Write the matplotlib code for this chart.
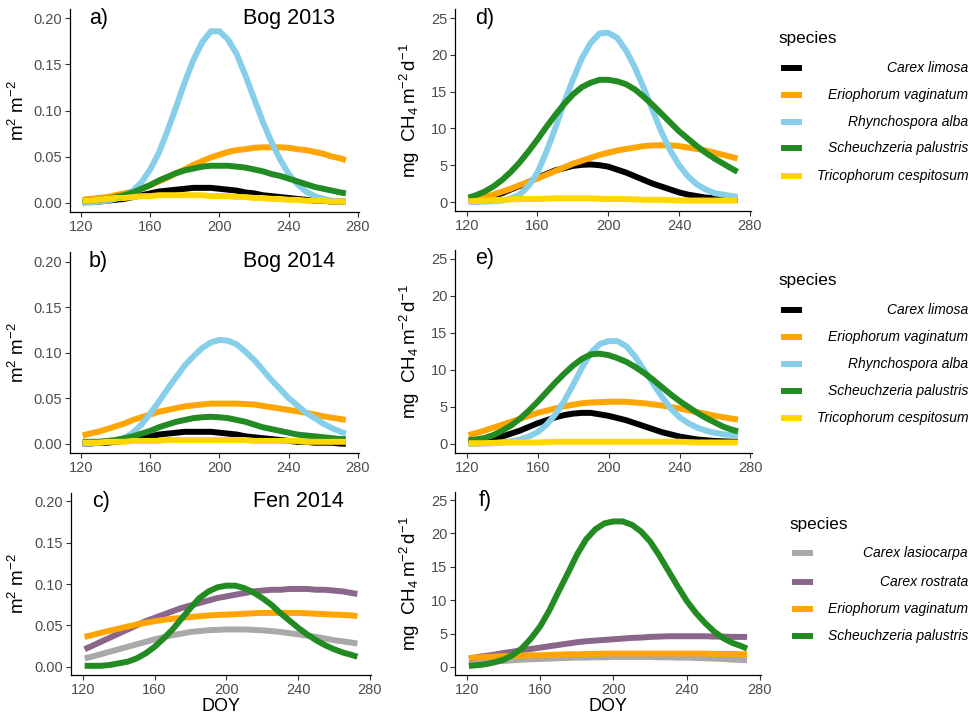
import matplotlib
matplotlib.use("Agg")
import matplotlib.pyplot as plt
from matplotlib.lines import Line2D

plt.rcParams['font.family'] = ['Liberation Sans', 'DejaVu Sans']
plt.rcParams['mathtext.fontset'] = 'custom'
plt.rcParams['mathtext.rm'] = 'Liberation Sans'
plt.rcParams['mathtext.it'] = 'Liberation Sans:italic'

# day of year (common grid for all curves)
doy = [121, 125, 130, 135, 140, 145, 150, 155, 160, 165, 170, 175, 180, 185, 190, 195,
       200, 205, 210, 215, 220, 225, 230, 235, 240, 245, 250, 255, 260, 265, 270, 273]

bog_species = ["Carex limosa", "Eriophorum vaginatum", "Rhynchospora alba",
               "Scheuchzeria palustris", "Tricophorum cespitosum"]
bog_colors = ["#000000", "#FFA500", "#87CEEB", "#228B22", "#FFD700"]
fen_species = ["Carex lasiocarpa", "Carex rostrata", "Eriophorum vaginatum",
               "Scheuchzeria palustris"]
fen_colors = ["#A9A9A9", "#8B668B", "#FFA500", "#228B22"]

# Bog 2013, leaf area (m2 m-2)
lai13_limosa = [0, .001, .001, .002, .003, .004, .006, .008, .010, .012, .013, .014, .015, .016, .016, .016,
                .015, .014, .013, .011, .010, .008, .007, .006, .005, .004, .003, .002, .002, .001, .001, .001]
lai13_vaginatum = [.003, .004, .005, .006, .008, .010, .012, .015, .019, .023, .027, .032, .036, .041, .045, .049,
                   .052, .055, .057, .058, .0595, .060, .060, .060, .0595, .058, .057, .055, .053, .050, .048, .046]
lai13_alba = [0, 0, .001, .002, .004, .007, .013, .022, .036, .054, .078, .104, .131, .155, .174, .186,
              .186, .177, .161, .138, .113, .088, .066, .047, .031, .020, .012, .007, .004, .002, .001, .001]
lai13_palustris = [.002, .002, .003, .004, .006, .008, .011, .015, .019, .024, .028, .032, .035, .037, .039, .040,
                   .040, .040, .039, .038, .036, .034, .031, .029, .026, .023, .020, .017, .015, .013, .011, .010]
lai13_cespitosum = [.002, .002, .003, .004, .005, .005, .006, .007, .007, .008, .008, .008, .008, .008, .008, .007,
                    .007, .007, .006, .006, .005, .005, .004, .004, .003, .003, .002, .002, .002, .001, .001, .001]

# Bog 2013, CH4 flux (mg CH4 m-2 d-1)
ch13_limosa = [.2, .3, .5, .8, 1.2, 1.7, 2.2, 2.7, 3.3, 3.8, 4.3, 4.6, 4.9, 5.05, 5.1, 5.0,
               4.8, 4.4, 4.0, 3.5, 3.0, 2.5, 2.1, 1.7, 1.3, 1.0, .8, .6, .5, .4, .3, .3]
ch13_vaginatum = [.3, .5, .7, 1.0, 1.4, 1.8, 2.3, 2.7, 3.2, 3.7, 4.2, 4.7, 5.2, 5.6, 6.0, 6.4,
                  6.7, 7.0, 7.2, 7.4, 7.6, 7.7, 7.7, 7.7, 7.6, 7.4, 7.2, 7.0, 6.7, 6.4, 6.1, 5.9]
ch13_alba = [0, 0, .05, .1, .2, .5, 1.0, 2.2, 4.0, 6.8, 10.0, 13.5, 16.6, 19.5, 21.6, 22.9,
             23.0, 22.3, 20.6, 18.3, 15.5, 12.5, 9.5, 7.0, 5.0, 3.5, 2.4, 1.7, 1.2, 1.0, .8, .7]
ch13_palustris = [.6, .9, 1.4, 2.1, 3.0, 4.1, 5.4, 6.9, 8.5, 10.2, 11.8, 13.3, 14.6, 15.6, 16.2, 16.6,
                  16.6, 16.4, 16.0, 15.3, 14.3, 13.2, 12.0, 10.8, 9.6, 8.6, 7.6, 6.7, 5.9, 5.2, 4.5, 4.1]
ch13_cespitosum = [.1, .15, .2, .25, .3, .35, .4, .4, .4, .45, .5, .5, .5, .5, .5, .45,
                   .4, .4, .4, .35, .3, .3, .3, .25, .2, .2, .2, .2, .2, .2, .2, .2]

# Bog 2014, leaf area
lai14_limosa = [0, 0, .001, .001, .002, .003, .005, .006, .008, .010, .011, .012, .013, .013, .013, .013,
                .012, .011, .010, .008, .007, .006, .005, .004, .003, .002, .002, .001, .001, .001, 0, 0]
lai14_vaginatum = [.009, .011, .013, .016, .019, .022, .026, .029, .032, .035, .037, .039, .041, .042, .043, .044,
                   .044, .044, .044, .0435, .043, .0415, .040, .0385, .037, .0355, .034, .032, .030, .0285, .027, .026]
lai14_alba = [0, 0, .001, .002, .003, .006, .012, .021, .033, .046, .060, .073, .086, .096, .105, .111,
              .114, .113, .109, .101, .092, .081, .070, .060, .050, .042, .034, .028, .022, .017, .013, .011]
lai14_palustris = [.002, .002, .002, .003, .004, .006, .008, .011, .014, .018, .021, .024, .026, .028, .029, .0295,
                   .029, .028, .026, .024, .021, .018, .016, .014, .012, .010, .009, .008, .007, .006, .005, .005]
lai14_cespitosum = [.001, .001, .001, .002, .002, .002, .003, .003, .003, .003, .004, .004, .004, .004, .004, .004,
                    .004, .004, .004, .004, .003, .003, .003, .003, .003, .003, .002, .002, .002, .002, .002, .002]

# Bog 2014, CH4 flux
ch14_limosa = [.2, .3, .4, .6, 1.0, 1.4, 1.8, 2.3, 2.8, 3.2, 3.6, 3.9, 4.1, 4.2, 4.2, 4.0,
               3.8, 3.5, 3.2, 2.8, 2.4, 2.0, 1.6, 1.3, 1.0, .8, .6, .5, .4, .35, .3, .3]
ch14_vaginatum = [1.2, 1.45, 1.8, 2.2, 2.6, 3.0, 3.4, 3.8, 4.2, 4.5, 4.8, 5.1, 5.3, 5.5, 5.6, 5.65,
                  5.7, 5.7, 5.7, 5.6, 5.5, 5.35, 5.2, 5.0, 4.8, 4.55, 4.3, 4.05, 3.8, 3.6, 3.4, 3.3]
ch14_alba = [0, 0, .05, .1, .2, .35, .6, 1.0, 1.6, 2.6, 4.0, 5.8, 8.0, 10.3, 12.3, 13.5,
             13.9, 13.9, 13.2, 11.8, 10.0, 8.2, 6.4, 4.8, 3.6, 2.8, 2.2, 1.8, 1.5, 1.3, 1.2, 1.1]
ch14_palustris = [.5, .6, .8, 1.2, 1.8, 2.5, 3.4, 4.5, 5.7, 7.0, 8.3, 9.5, 10.6, 11.5, 12.1, 12.2,
                  12.0, 11.6, 11.1, 10.4, 9.6, 8.7, 7.7, 6.7, 5.8, 5.0, 4.2, 3.5, 2.9, 2.3, 1.9, 1.7]
ch14_cespitosum = [.1, .1, .1, .15, .2, .2, .2, .2, .2, .25, .3, .3, .3, .3, .3, .3,
                   .3, .3, .3, .3, .3, .3, .3, .3, .3, .25, .2, .2, .2, .2, .2, .2]

# Fen 2014, leaf area
laif_lasiocarpa = [.010, .012, .015, .018, .021, .024, .027, .030, .033, .0355, .038, .040, .042, .043, .044, .0445,
                   .045, .045, .045, .0445, .044, .043, .042, .0405, .039, .0375, .036, .034, .032, .0305, .029, .028]
laif_rostrata = [.021, .025, .030, .035, .040, .045, .050, .055, .059, .063, .067, .071, .074, .077, .080, .083,
                 .085, .087, .089, .091, .092, .093, .093, .094, .094, .094, .093, .093, .092, .091, .089, .088]
laif_vaginatum = [.036, .038, .041, .0435, .046, .0485, .051, .053, .055, .0565, .058, .059, .060, .061, .062, .0625,
                  .063, .0635, .064, .0645, .065, .065, .065, .065, .065, .0645, .064, .0635, .063, .0625, .062, .061]
laif_palustris = [.001, .001, .001, .002, .004, .006, .010, .016, .024, .034, .045, .058, .071, .083, .091, .096,
                  .098, .098, .095, .090, .083, .075, .065, .056, .047, .039, .032, .026, .021, .017, .014, .012]

# Fen 2014, CH4 flux
chf_lasiocarpa = [.5, .6, .7, .8, .9, 1.0, 1.1, 1.15, 1.2, 1.25, 1.3, 1.35, 1.4, 1.4, 1.45, 1.45,
                  1.5, 1.5, 1.5, 1.5, 1.5, 1.45, 1.45, 1.4, 1.4, 1.35, 1.3, 1.25, 1.2, 1.1, 1.05, 1.0]
chf_rostrata = [1.25, 1.45, 1.65, 1.85, 2.1, 2.3, 2.5, 2.7, 2.9, 3.1, 3.3, 3.5, 3.7, 3.85, 3.95, 4.05,
                4.15, 4.25, 4.35, 4.4, 4.5, 4.55, 4.6, 4.6, 4.6, 4.6, 4.6, 4.55, 4.55, 4.5, 4.5, 4.5]
chf_vaginatum = [1.35, 1.4, 1.5, 1.55, 1.6, 1.65, 1.7, 1.75, 1.75, 1.8, 1.85, 1.9, 1.9, 1.95, 1.95, 2.0,
                 2.0, 2.0, 2.0, 2.0, 2.0, 2.0, 2.0, 2.0, 2.0, 2.0, 2.0, 1.95, 1.95, 1.95, 1.9, 1.9]
chf_palustris = [.15, .25, .4, .7, 1.1, 1.8, 2.8, 4.3, 6.1, 8.5, 11.3, 14.0, 16.8, 19.1, 20.6, 21.5,
                 21.8, 21.8, 21.3, 20.3, 18.8, 16.7, 14.4, 12.1, 9.9, 8.1, 6.6, 5.3, 4.3, 3.6, 3.1, 2.75]

W, H = 971, 717
fig = plt.figure(figsize=(W / 100, H / 100), dpi=100)


def box(l, r, t, b):
    # pixel box (top-left origin) -> figure fraction
    return [l / W, 1 - b / H, (r - l) / W, (b - t) / H]


lai_label = r'$\mathregular{m^2\ m^{-2}}$'
ch4_label = r'$\mathregular{mg\ \ CH_4\,m^{-2}\,d^{-1}}$'


def panel(rect, series, colors, kind, tag, title=None, xlabel=None, ylab_x=-0.14):
    ax = fig.add_axes(box(*rect))
    for y, c in zip(series, colors):
        ax.plot(doy, y, color=c, lw=4.3, solid_capstyle='butt', solid_joinstyle='round')
    ax.set_xlim(113.4, 280.6)
    ax.set_xticks([120, 160, 200, 240, 280])
    if kind == 'lai':
        ax.set_ylim(-0.0105, 0.2105)
        ax.set_yticks([0, 0.05, 0.10, 0.15, 0.20])
        ax.set_yticklabels(['0.00', '0.05', '0.10', '0.15', '0.20'])
        ax.set_ylabel(lai_label, fontsize=13.5)
        ytop = 0.2
    else:
        ax.set_ylim(-1.25, 26.25)
        ax.set_yticks([0, 5, 10, 15, 20, 25])
        ax.set_ylabel(ch4_label, fontsize=13.5)
        ytop = 25
    ax.yaxis.set_label_coords(ylab_x, 0.5)
    for s in ['top', 'right']:
        ax.spines[s].set_visible(False)
    for s in ['left', 'bottom']:
        ax.spines[s].set_linewidth(0.9)
    ax.tick_params(length=3.5, width=0.8, color='#333333', labelcolor='#4D4D4D',
                   labelsize=10.5, pad=2)
    ax.text(130, ytop, tag, fontsize=15.5, ha='center', va='center')
    if title:
        ax.text(240, ytop, title, fontsize=15.5, ha='center', va='center')
    if xlabel:
        ax.set_xlabel(xlabel, fontsize=13, labelpad=1)
    return ax


panel((69.5, 359, 8.75, 212.25),
      [lai13_limosa, lai13_vaginatum, lai13_alba, lai13_palustris, lai13_cespitosum],
      bog_colors, 'lai', 'a)', 'Bog 2013', ylab_x=-0.143)
panel((455, 751, 8.8, 211.2),
      [ch13_limosa, ch13_vaginatum, ch13_alba, ch13_palustris, ch13_cespitosum],
      bog_colors, 'ch4', 'd)', ylab_x=-0.111)
panel((69.5, 359, 252, 453.2),
      [lai14_limosa, lai14_vaginatum, lai14_alba, lai14_palustris, lai14_cespitosum],
      bog_colors, 'lai', 'b)', 'Bog 2014', ylab_x=-0.143)
panel((455, 751.5, 249.7, 453.2),
      [ch14_limosa, ch14_vaginatum, ch14_alba, ch14_palustris, ch14_cespitosum],
      bog_colors, 'ch4', 'e)', ylab_x=-0.111)
panel((71, 371, 492.7, 675.3),
      [laif_lasiocarpa, laif_rostrata, laif_vaginatum, laif_palustris],
      fen_colors, 'lai', 'c)', 'Fen 2014', xlabel='DOY', ylab_x=-0.143)
panel((455, 761, 491.7, 675.3),
      [chf_lasiocarpa, chf_rostrata, chf_vaginatum, chf_palustris],
      fen_colors, 'ch4', 'f)', xlabel='DOY', ylab_x=-0.108)


def legend(names, colors, title_xy, ys, key_x, text_right=968):
    fig.text(title_xy[0] / W, 1 - title_xy[1] / H, 'species', fontsize=12.3,
             ha='left', va='center')
    for name, c, y in zip(names, colors, ys):
        fy = 1 - y / H
        fig.add_artist(Line2D([key_x / W, (key_x + 21) / W], [fy, fy], color=c,
                              lw=4.3, solid_capstyle='butt'))
        fig.text(text_right / W, fy, name, fontsize=10, style='italic',
                 ha='right', va='center')


legend(bog_species, bog_colors, (778, 38), [68, 95, 122, 148, 176], 781)
legend(bog_species, bog_colors, (778, 280), [310, 337, 364, 391, 418], 781)
legend(fen_species, fen_colors, (789, 525), [553, 582, 609, 636], 792)

fig.savefig('out.png', dpi=100)
